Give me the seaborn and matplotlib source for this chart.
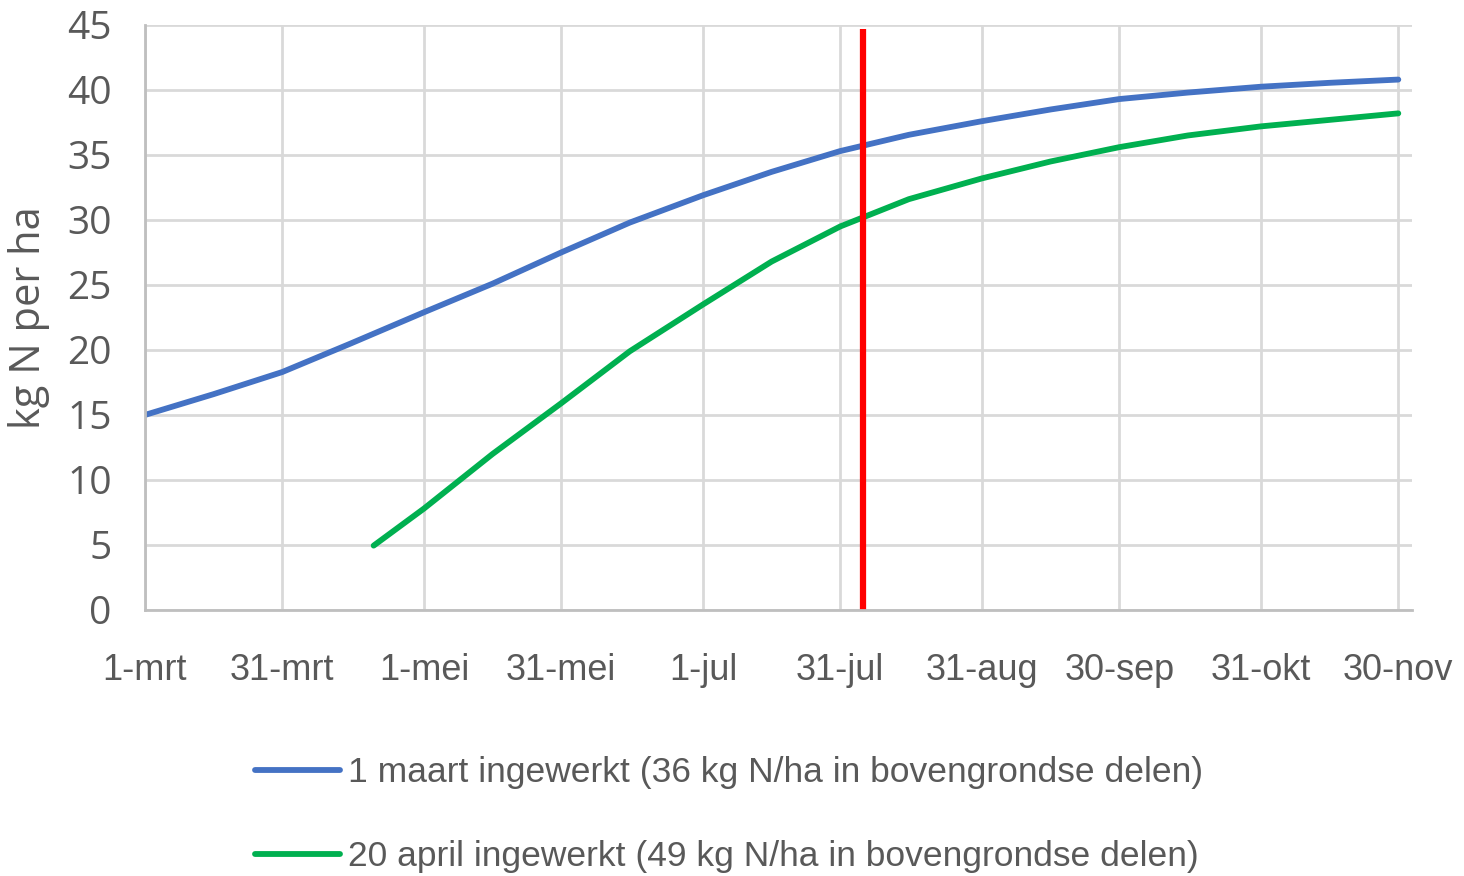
import pandas as pd
import matplotlib.pyplot as plt
import seaborn as sns

# data (kg N per ha)
tick_dates = ['2021-03-01', '2021-03-31', '2021-05-01', '2021-05-31', '2021-07-01',
              '2021-07-31', '2021-08-31', '2021-09-30', '2021-10-31', '2021-11-30']
tick_labels = ['1-mrt', '31-mrt', '1-mei', '31-mei', '1-jul',
               '31-jul', '31-aug', '30-sep', '31-okt', '30-nov']

maart_dates = ['2021-03-01', '2021-03-16', '2021-03-31', '2021-04-15', '2021-05-01',
               '2021-05-16', '2021-05-31', '2021-06-15', '2021-07-01', '2021-07-16',
               '2021-07-31', '2021-08-15', '2021-08-31', '2021-09-15', '2021-09-30',
               '2021-10-15', '2021-10-31', '2021-11-15', '2021-11-30']
maart_values = [15.0, 16.6, 18.3, 20.5, 22.9, 25.1, 27.5, 29.8, 31.9, 33.7,
                35.3, 36.55, 37.6, 38.5, 39.3, 39.8, 40.25, 40.55, 40.8]

april_dates = ['2021-04-20', '2021-05-01', '2021-05-16', '2021-05-31', '2021-06-15',
               '2021-07-01', '2021-07-16', '2021-07-31', '2021-08-15', '2021-08-31',
               '2021-09-15', '2021-09-30', '2021-10-15', '2021-10-31', '2021-11-15',
               '2021-11-30']
april_values = [4.95, 7.8, 12.0, 15.9, 19.9, 23.5, 26.8, 29.5, 31.6, 33.2,
                34.5, 35.6, 36.5, 37.2, 37.7, 38.2]

series_names = ['1 maart ingewerkt (36 kg N/ha in bovengrondse delen)',
                '20 april ingewerkt (49 kg N/ha in bovengrondse delen)']
series_colors = ['#4472C4', '#00B050']

marker_date = '2021-08-05'
marker_top = 44.7

df = pd.concat([
    pd.DataFrame({'datum': pd.to_datetime(maart_dates), 'kg N': maart_values, 'serie': series_names[0]}),
    pd.DataFrame({'datum': pd.to_datetime(april_dates), 'kg N': april_values, 'serie': series_names[1]}),
])

sns.set_style("whitegrid")
plt.rcParams['font.family'] = ['Liberation Sans', 'DejaVu Sans']
grey = '#595959'

fig = plt.figure(figsize=(14.64, 8.76), dpi=100)
ax = fig.add_axes([0.099, 0.3037, 0.8655, 0.6678])

sns.lineplot(data=df, x='datum', y='kg N', hue='serie', hue_order=series_names,
             palette=series_colors, linewidth=4.2, ax=ax)

ax.plot(pd.to_datetime([marker_date, marker_date]), [0, marker_top],
        color='#FF0000', linewidth=4.5, solid_capstyle='butt')

ax.set_xlim(pd.Timestamp('2021-03-01'), pd.Timestamp('2021-12-03'))
ax.set_ylim(0, 45)
ax.set_xticks(pd.to_datetime(tick_dates))
ax.set_xticklabels(tick_labels)
ax.set_yticks(range(0, 46, 5))

ax.grid(color='#d9d9d9', linewidth=2)
for side in ['top', 'right']:
    ax.spines[side].set_visible(False)
for side in ['left', 'bottom']:
    ax.spines[side].set_color('#bfbfbf')
    ax.spines[side].set_linewidth(2)

ax.tick_params(axis='x', length=0, pad=31, labelsize=26, labelcolor=grey)
ax.tick_params(axis='y', length=0, pad=24, labelsize=28, labelcolor=grey)
for lbl in ax.get_yticklabels():
    lbl.set_family(['Open Sans', 'DejaVu Sans'])

ax.set_xlabel('')
ax.set_ylabel('kg N per ha', fontsize=30, color=grey, family=['Open Sans', 'DejaVu Sans'])
ax.yaxis.set_label_coords(-0.075, 0.5)

handles, labels = ax.get_legend_handles_labels()
ax.get_legend().remove()
fig.legend(handles, labels, loc='upper left', bbox_to_anchor=(0.174, 0.137),
           frameon=False, fontsize=25.5, labelcolor=grey, handlelength=2.4,
           handletextpad=0.23, labelspacing=1.45, borderpad=0, borderaxespad=0)

plt.savefig('out.png', dpi=100)
